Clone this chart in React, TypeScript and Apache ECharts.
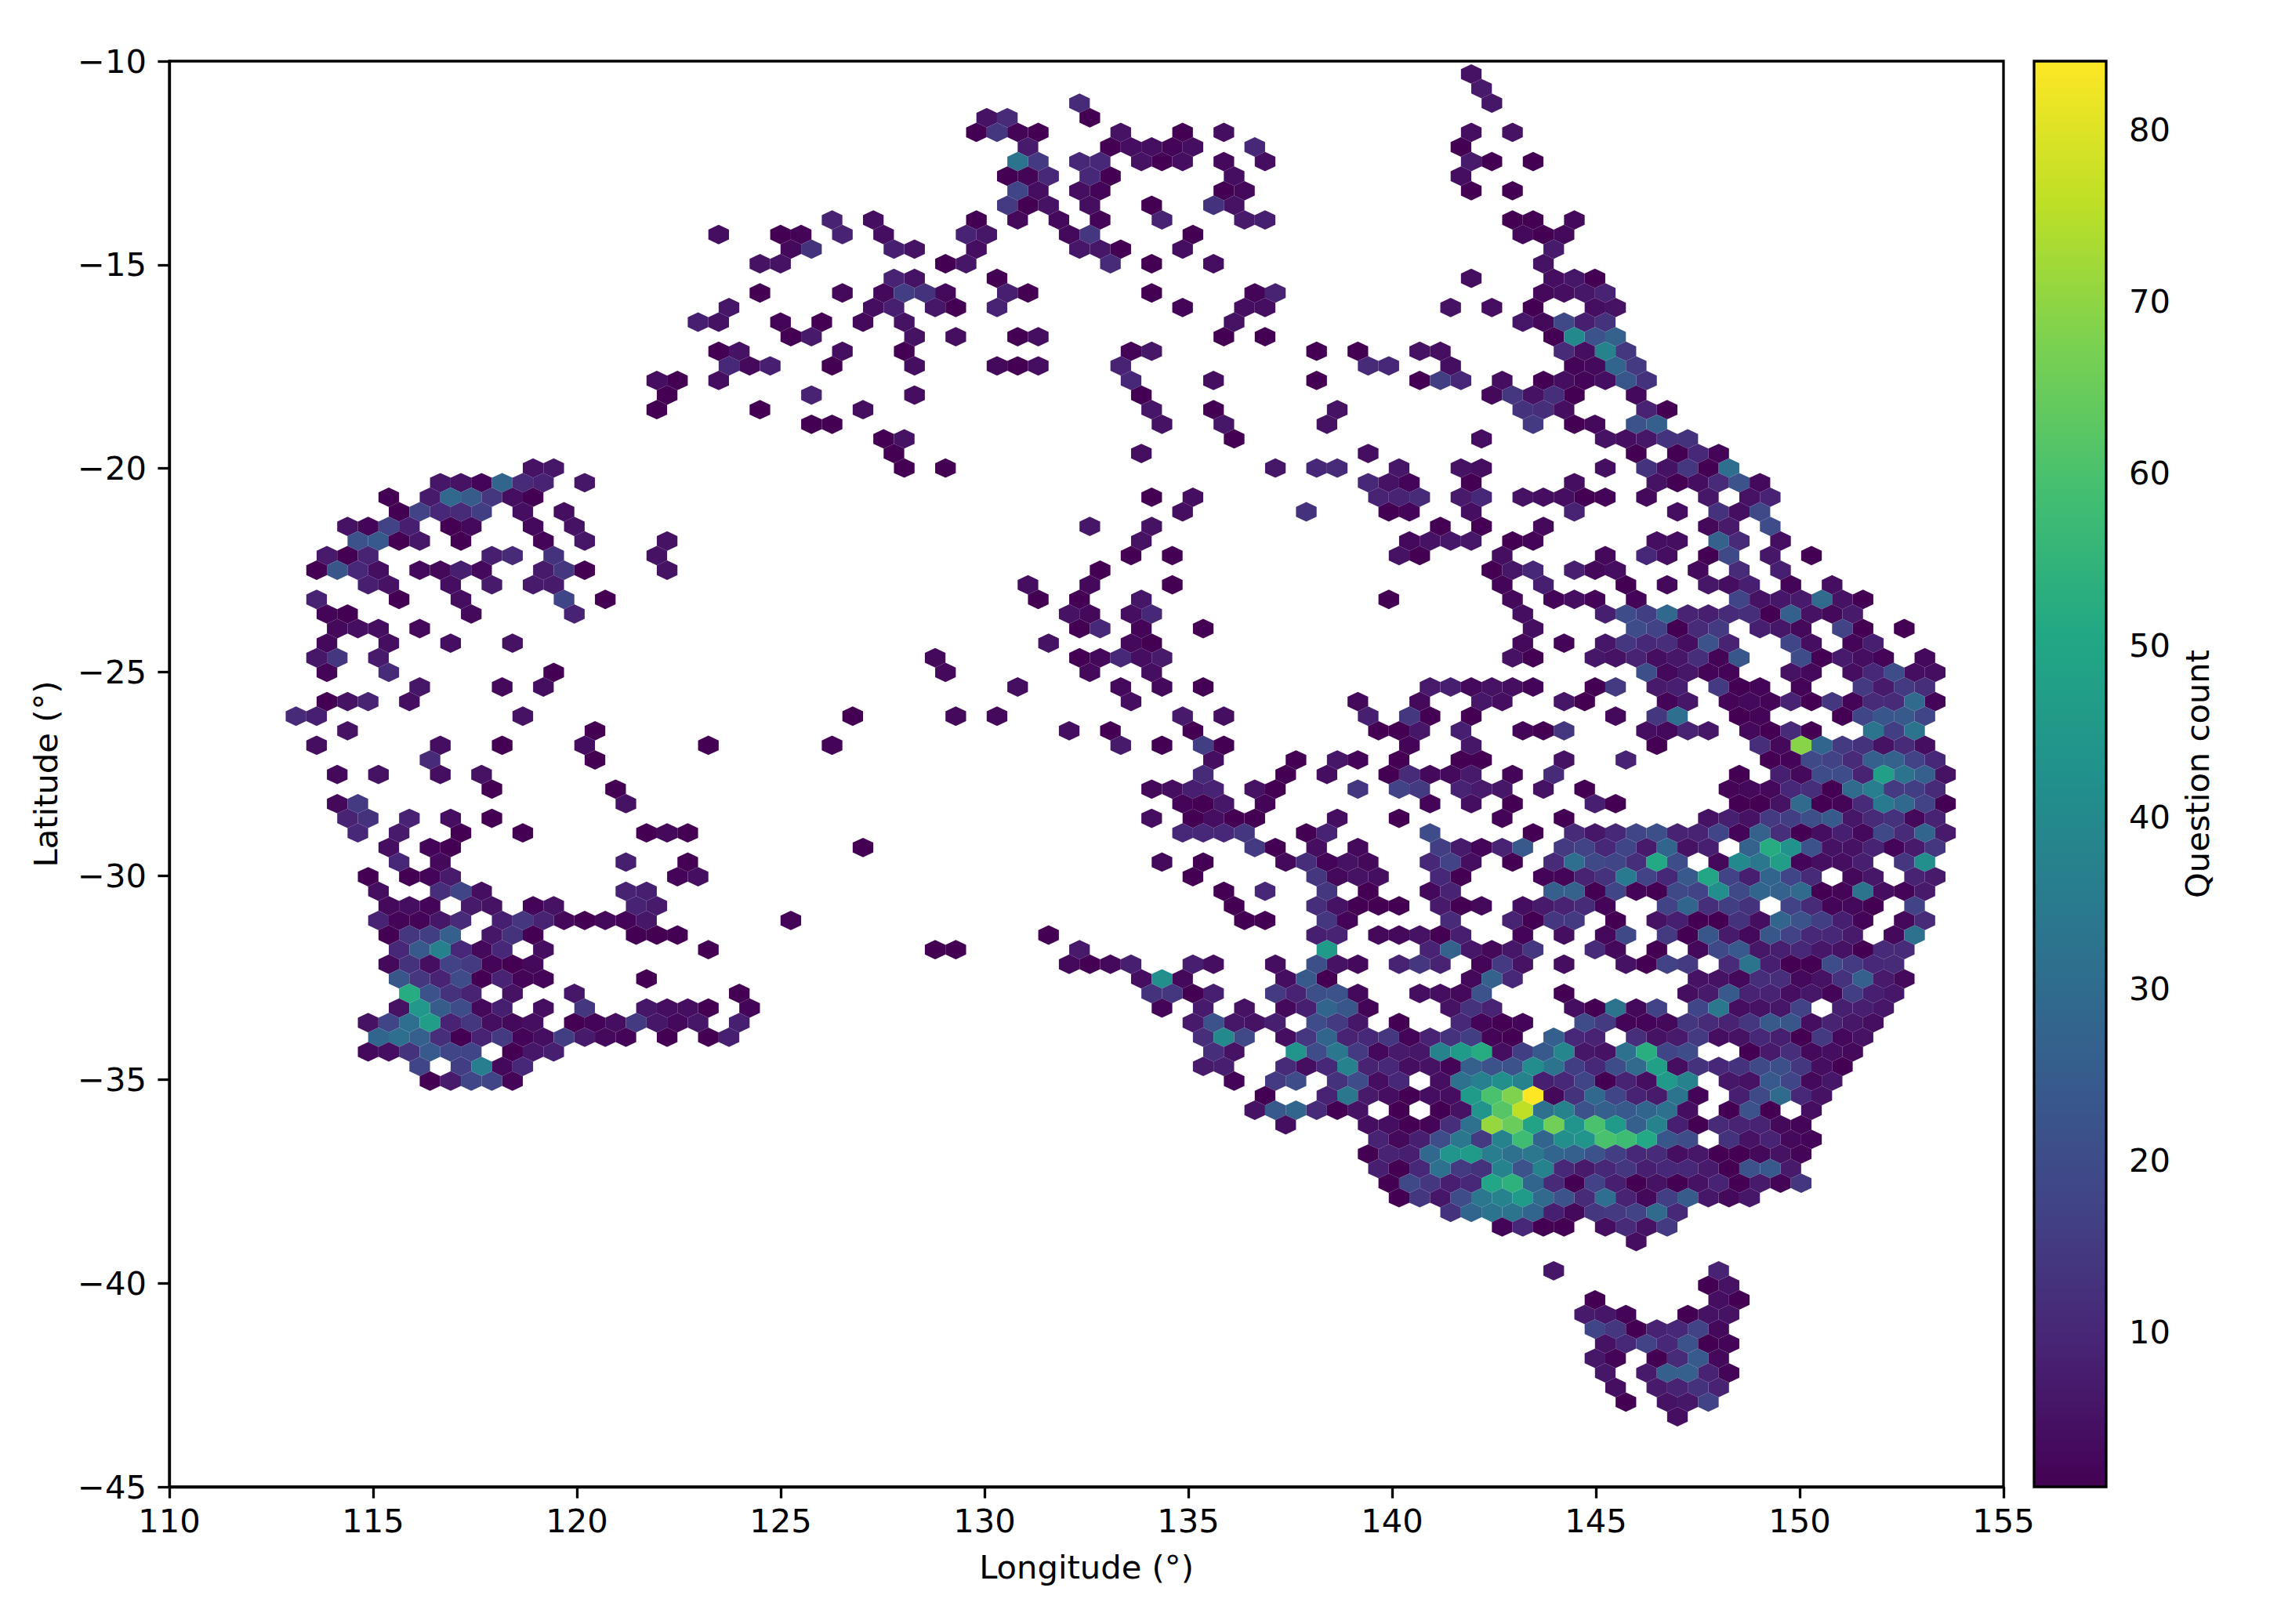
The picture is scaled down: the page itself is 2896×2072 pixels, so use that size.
import React, { useEffect, useRef } from "react";
import * as echarts from "echarts";

// Hexbin lattice: bin k sits at lon = lonOrigin + k*lonStep, bin r at lat = latOrigin - r*latStep
const lonOrigin = 113.108;
const lonStep = 0.25293;
const latOrigin = -10.316;
const latStep = 0.35828;
const vmin = 1;
const vmax = 84;
const xTicks = [110, 115, 120, 125, 130, 135, 140, 145, 150, 155];
const cbarTicks = [10, 20, 30, 40, 50, 60, 70, 80];
const viridis = ["#440154", "#482475", "#414487", "#355f8d", "#2a788e", "#21918c", "#22a884", "#44bf70", "#7ad151", "#bddf26", "#fde725"];

// each row: [r, k, count, k, count, ...]
const rowsNorth: number[][] = [
[0,114,5],[1,115,7],[2,76,11,116,6],[3,67,5,69,11,77,1],
[4,66,1,68,14,70,2,72,1,80,5,86,1,90,4,114,4,118,5],
[5,71,7,79,1,81,4,83,4,85,2,87,4,93,10,113,1],
[6,70,33,72,15,76,10,78,10,82,5,84,1,86,4,90,3,94,4,114,7,116,1,120,1],
[7,69,1,71,2,73,10,77,10,79,1,91,4,113,4],
[8,70,18,72,4,76,4,78,2,90,1,92,3,114,1,118,1],
[9,69,15,71,1,73,5,77,4,83,1,89,13,91,5],
[10,52,9,56,4,66,1,70,3,74,3,78,2,84,9,92,7,94,8,118,1,120,1,124,3],
[11,41,4,47,1,49,2,53,9,57,4,65,9,67,6,75,3,77,14,87,1,119,3,121,1,123,3],
[12,48,3,50,13,58,8,60,5,66,4,76,6,78,6,80,1,86,4,122,7],
[13,45,5,47,5,63,1,65,6,79,11,83,1,89,4,121,5],
[14,58,9,60,5,68,1,114,4,122,4,124,6,126,1],
[15,45,1,53,3,57,3,59,16,61,13,63,3,69,8,71,1,83,1,93,2,95,9,121,3,123,4,125,6,127,9],
[16,42,6,56,4,58,8,62,6,64,1,68,9,86,2,92,4,94,4,112,5,116,4,120,1,126,4,128,5],
[17,39,8,41,5,47,2,51,1,55,3,59,5,91,5,119,6,121,3,123,19,125,8,127,13],
[18,48,1,50,7,60,5,64,4,70,1,72,4,90,1,94,1,122,1,124,40,126,22,128,27],
[19,41,1,43,5,53,4,59,1,81,2,83,6,99,1,103,1,109,5,111,4,123,11,125,4,127,38,129,14],
[20,42,10,44,3,46,8,52,1,60,4,68,3,70,1,72,4,80,9,104,11,106,10,112,4,124,2,126,3,128,28,130,15],
[21,35,4,37,1,41,4,81,10,89,4,99,1,109,1,111,16,113,10,117,4,121,1,123,4,125,2,127,4,129,23,131,13],
[22,36,1,50,9,60,4,82,1,116,3,118,14,120,5,122,12,124,1,130,3],
[23,35,1,45,1,55,4,83,6,89,1,101,5,119,13,121,12,123,4,131,9,133,1],
[24,50,1,52,1,84,5,90,6,100,5,120,15,124,1,126,3,130,22,132,26],
[25,57,1,59,5,91,1,115,4,127,5,129,4,131,6,133,13,135,13],
[26,58,1,82,4,104,4,130,1,134,1,136,10,138,2],
];

const rowsUpper: number[][] = [
[27,23,5,25,6,59,1,63,1,95,6,99,10,101,11,107,6,113,5,115,4,127,4,131,13,133,5,135,14,137,1,139,31],
[28,14,6,16,5,18,2,20,28,22,11,24,9,28,6,104,10,106,5,108,2,114,1,124,4,132,5,134,1,136,4,138,11,140,22,142,3],
[29,9,1,13,7,15,29,17,25,19,14,21,4,23,1,83,1,87,4,105,9,107,9,109,11,113,7,115,10,119,5,121,4,123,4,125,1,127,2,131,3,137,6,141,5,143,9],
[30,10,1,12,17,14,10,16,11,18,16,22,4,26,4,86,4,98,13,106,1,108,2,114,4,124,9,134,4,138,13,140,4,142,19],
[31,5,5,7,2,9,17,11,8,15,1,17,3,23,3,27,5,77,6,83,5,111,1,115,1,121,3,137,3,139,7,143,20],
[32,6,22,8,24,10,1,12,6,16,1,24,2,28,6,36,5,82,5,108,3,110,5,112,6,114,6,118,1,120,2,132,4,134,4,138,27,140,11,144,4],
[33,3,7,5,1,7,9,19,8,21,11,25,13,35,5,81,1,85,1,107,5,109,1,117,4,127,3,131,10,133,4,137,1,139,19,143,6,147,1],
[34,2,1,4,23,6,10,8,4,12,3,14,3,16,8,18,3,24,7,26,14,28,1,36,5,78,1,116,1,118,6,120,10,124,8,126,3,128,4,136,3,140,11,144,8],
[35,7,8,9,5,15,4,19,7,23,7,25,7,71,4,77,3,85,1,117,2,121,8,129,1,133,3,137,6,139,4,141,8,145,2,149,4],
[36,2,9,10,1,16,4,26,18,30,1,72,1,76,1,82,6,106,1,118,3,122,2,124,4,126,2,130,2,140,18,142,5,144,6,146,7,148,30,150,5,152,1],
[37,3,2,5,1,17,3,27,9,75,5,77,3,81,4,83,10,119,4,127,8,129,20,131,16,133,29,135,9,137,8,139,11,141,12,143,1,145,26,147,5,149,3,151,7],
[38,4,3,6,4,8,4,12,3,76,1,78,10,82,2,88,1,120,4,130,20,132,17,134,1,136,11,138,15,142,8,144,6,146,3,150,17,152,1,156,1],
[39,3,3,9,4,15,4,21,5,73,5,81,3,83,1,119,3,123,2,127,6,129,14,131,10,133,12,135,4,137,22,139,9,145,18,147,4,151,2,153,8],
[40,2,6,4,14,8,7,62,3,76,1,78,3,80,10,82,4,84,7,118,5,120,1,126,6,128,5,130,9,132,4,134,6,136,12,138,2,140,23,146,20,148,1,150,7,152,4,154,2,158,3],
[41,3,2,9,11,25,1,63,3,77,3,83,4,131,21,133,3,135,6,137,2,139,2,145,5,147,3,151,4,153,10,155,20,157,4,159,4],
[42,12,6,20,3,24,4,70,4,80,3,84,3,88,1,110,7,112,8,114,3,116,5,118,4,120,2,126,1,128,15,132,7,134,8,138,15,140,1,142,2,146,2,152,15,154,7,156,15,158,12],
[43,3,1,5,5,7,9,11,4,81,4,103,3,109,3,115,6,117,4,123,6,125,1,133,2,135,6,139,2,141,3,143,2,145,9,147,1,149,14,151,2,153,11,155,11,157,30,159,2],
[44,0,11,2,8,22,5,54,1,64,3,68,3,86,7,90,4,104,8,108,14,110,1,114,1,128,3,132,14,134,31,140,1,142,2,150,1,152,18,154,23,156,24,158,18],
[45,5,5,29,1,75,4,79,1,87,1,105,1,107,1,109,6,113,8,119,2,121,1,123,14,131,4,133,3,135,9,137,6,141,3,143,1,145,11,147,1,153,33,155,16,157,33],
];

const rowsMiddle: number[][] = [
[46,2,4,14,4,20,1,28,4,40,1,52,2,80,7,84,1,88,16,90,1,108,2,114,6,132,1,142,12,144,3,146,69,148,28,150,15,152,13,154,5,156,11,158,4],
[47,13,11,29,1,89,4,97,1,101,6,103,2,107,1,113,1,115,1,123,5,129,9,143,1,145,2,147,19,149,17,151,11,153,26,155,27,157,17,159,10],
[48,4,3,8,5,14,4,18,5,88,11,96,1,100,4,106,1,108,11,110,3,112,3,114,7,118,2,122,11,140,1,144,8,146,3,148,20,150,20,152,9,154,48,156,33,158,26,160,5],
[49,19,1,31,1,83,3,85,4,87,8,89,9,93,5,95,1,103,14,107,17,109,15,113,9,115,7,117,6,121,5,125,1,139,2,141,3,143,3,145,10,147,12,149,1,151,30,153,36,155,15,157,16,159,11],
[50,4,3,6,15,32,5,86,2,88,1,90,6,94,2,110,2,114,4,118,1,126,8,128,1,140,1,142,1,144,5,146,30,148,1,150,2,152,11,154,35,156,29,158,17,160,1],
[51,5,9,7,13,11,9,15,4,19,1,83,4,87,1,89,4,91,1,93,1,101,4,107,1,117,2,123,1,137,5,139,8,141,5,143,15,145,16,147,21,149,24,151,6,153,11,155,13,157,3,159,9],
[52,6,10,10,7,16,1,22,1,34,1,36,3,38,1,86,10,88,10,90,10,92,14,98,1,100,9,110,20,120,1,124,11,126,6,128,10,130,18,132,21,134,9,136,9,138,18,140,2,142,27,144,12,146,1,148,4,150,8,152,3,154,19,156,11,158,28,160,7],
[53,9,4,13,2,15,1,55,1,93,15,95,1,99,4,103,3,111,16,113,7,115,2,117,9,119,24,123,15,125,17,127,10,129,18,131,7,133,28,135,5,137,8,141,27,143,52,145,43,147,22,149,5,151,5,153,9,155,2,157,7,159,14],
[54,10,10,14,3,32,8,38,1,84,3,88,1,96,3,98,12,100,2,102,5,104,3,110,10,112,17,114,4,118,1,122,11,124,31,126,19,128,18,130,12,132,51,134,20,138,3,140,40,142,34,144,47,146,2,148,4,150,4,152,8,156,14,158,42],
[55,7,1,11,1,13,2,15,7,37,2,39,4,87,1,99,14,101,3,103,5,105,4,111,10,113,1,121,2,123,2,125,9,127,13,129,35,131,17,133,10,135,24,137,50,139,17,141,8,143,28,145,18,147,11,151,3,153,6,157,9,159,7],
[56,8,4,14,12,16,18,18,4,32,9,34,8,90,1,94,10,100,14,104,1,110,3,112,9,122,26,124,27,126,1,128,18,130,2,132,1,134,19,136,17,138,42,140,19,142,28,144,27,146,30,148,1,150,2,152,33,154,4,156,2,158,7],
[57,9,3,11,4,13,2,17,7,19,5,23,2,25,5,33,9,35,7,91,1,99,12,101,5,103,1,105,1,107,1,111,7,113,1,115,3,119,4,121,7,123,9,125,11,127,2,133,17,135,28,137,12,139,16,141,13,145,17,147,11,149,2,151,3,153,1,157,17],
[58,8,9,10,2,12,2,14,6,16,11,20,8,22,14,24,9,26,3,28,1,30,3,32,2,34,6,48,2,92,1,94,1,100,14,102,2,112,11,118,9,120,1,122,14,124,15,128,1,132,5,134,8,136,1,138,1,140,13,142,4,144,28,146,22,148,16,150,8,152,2,156,3,158,11],
[59,9,1,11,14,13,16,15,26,19,6,21,13,23,1,33,1,35,1,37,1,73,1,99,8,101,9,105,3,107,3,109,5,111,1,113,8,119,2,123,4,127,3,129,19,133,15,135,1,137,23,139,7,141,3,143,23,145,17,147,10,149,10,151,7,155,3,157,32],
[60,10,10,12,24,14,37,16,10,18,3,20,10,24,4,40,1,62,1,64,1,76,7,100,46,110,9,112,27,114,6,116,3,118,6,120,14,126,11,128,3,132,1,136,3,138,19,140,24,142,6,144,8,146,10,148,6,150,5,152,1,154,11,156,11],
];

const rowsSouth: number[][] = [
[61,9,3,11,13,13,4,15,17,17,15,19,2,21,1,23,3,75,3,77,1,79,3,81,8,87,8,89,4,95,4,99,21,101,5,103,3,107,9,109,14,111,9,115,2,117,15,119,5,123,4,129,5,131,1,133,17,135,15,139,11,141,33,143,8,145,1,147,1,149,20,151,15,153,10,155,11],
[62,10,23,12,14,14,9,16,20,18,1,20,9,22,2,24,2,34,1,82,4,84,42,86,3,96,4,98,24,100,1,114,3,116,27,118,10,136,5,138,5,140,3,142,12,144,12,146,3,148,5,150,13,152,26,154,7,156,3],
[63,11,52,13,22,15,13,17,9,21,5,27,6,43,1,83,13,85,14,87,1,89,8,95,15,97,9,99,21,101,22,103,3,109,4,111,4,113,3,115,22,123,1,135,4,137,7,139,24,141,9,143,9,145,4,147,6,149,2,151,16,153,8,155,6],
[64,10,5,12,45,14,25,16,20,18,3,20,8,24,4,28,14,34,6,36,4,38,4,40,1,44,2,84,2,88,7,92,5,96,3,98,8,100,28,102,23,104,2,112,5,114,13,116,9,124,4,126,1,128,33,130,3,132,17,136,18,138,34,140,4,142,5,144,6,146,17,150,8,152,8,154,6],
[65,7,5,9,18,11,31,13,47,15,9,17,14,19,4,21,3,23,4,27,1,29,2,31,4,33,15,35,6,37,3,39,6,43,8,87,7,89,22,91,6,93,5,95,8,99,20,101,15,103,6,107,1,113,10,115,2,117,1,119,2,125,20,127,15,129,2,131,2,133,3,135,14,137,11,139,9,141,14,143,24,145,23,147,4,149,9,151,6,153,4],
[66,8,28,10,31,12,26,14,12,16,1,18,9,20,15,22,2,24,4,26,16,28,7,30,3,32,2,36,1,40,1,42,8,88,12,90,40,92,19,96,4,98,14,100,28,102,9,104,10,106,14,108,2,110,9,112,13,114,16,116,2,118,1,122,26,124,10,126,9,130,12,132,5,134,7,136,15,138,4,140,5,142,10,144,8,146,1,148,15,150,3,152,5],
[67,7,3,9,4,11,13,13,24,15,18,17,18,21,1,23,6,25,8,89,12,91,5,97,44,99,20,101,34,103,15,105,3,107,7,109,6,111,38,113,46,115,52,117,4,119,16,121,24,123,39,125,6,127,5,129,32,131,53,133,18,135,20,141,1,143,7,145,12,147,3,149,4,151,3],
[68,12,18,16,16,18,36,20,3,22,10,88,7,90,8,96,11,98,4,100,10,102,38,104,9,106,10,108,4,110,5,112,2,114,26,116,22,118,22,120,41,122,33,124,16,126,10,128,20,130,30,132,48,134,4,136,13,138,10,140,13,142,19,144,21,146,14,148,4,150,1],
[69,13,1,15,7,17,18,19,18,21,2,91,2,95,15,97,20,101,13,103,20,105,4,107,10,111,4,113,32,115,37,117,42,119,38,121,8,123,10,125,18,127,1,129,9,131,4,133,46,135,38,139,6,141,5,143,24,145,18,147,3,149,6],
[70,94,1,100,9,102,34,104,7,106,4,108,1,110,4,112,4,114,46,116,60,118,68,120,84,122,3,124,13,126,29,128,18,130,9,132,7,134,33,136,2,140,8,142,19,144,30,146,10,148,5],
[71,93,5,95,24,97,28,99,11,101,1,103,5,107,1,111,1,113,5,115,44,117,62,119,76,121,32,123,38,125,22,127,26,129,24,131,28,133,32,135,4,139,1,141,22,143,1,147,4],
[72,96,4,104,4,106,4,108,1,110,2,112,12,114,32,116,71,118,65,120,49,122,66,124,44,126,60,128,46,130,26,132,38,134,8,136,1,138,11,140,9,142,9,144,3,146,2],
[73,105,9,107,3,109,8,111,20,113,34,115,15,117,38,119,58,121,28,123,42,125,44,127,60,129,58,131,51,133,23,135,20,139,13,141,5,143,9,145,3,147,2],
[74,104,1,106,9,108,8,110,29,112,44,114,46,116,36,118,32,120,34,122,28,124,26,126,22,128,16,130,10,132,11,134,4,136,6,138,1,140,1,142,3,144,5,146,2],
[75,105,8,107,1,109,10,111,32,113,15,115,13,117,38,119,22,121,38,123,10,125,7,127,10,129,14,131,8,133,10,135,10,137,7,139,1,141,22,143,24,145,7],
[76,106,1,108,19,110,14,112,8,114,10,116,50,118,54,120,28,122,11,124,1,126,17,128,8,130,1,132,5,134,1,136,5,138,9,140,1,142,7,144,2,146,14],
[77,107,1,109,14,111,6,113,20,115,34,117,38,119,46,121,30,123,22,125,11,127,31,129,9,131,3,133,16,135,25,137,6,139,3,141,6],
[78,112,13,114,28,116,33,118,33,120,28,122,8,124,3,126,14,128,15,130,17,132,30,134,10],
[79,117,2,119,10,121,1,123,1,127,4,129,11,131,5,133,15],
[80,130,4],
];

const rowsTasmania: number[][] = [
[82,122,6,138,9],[83,137,1,139,5],[84,126,1,138,4,140,1],
[85,125,7,127,6,129,2,135,1,137,5,139,5],
[86,126,18,128,14,130,1,132,9,134,10,136,17,138,3],
[87,127,5,129,10,131,17,133,10,135,22,137,1,139,2],
[88,126,6,128,2,132,1,134,11,136,24,138,3],
[89,127,6,131,7,133,26,135,26,137,9,139,2],
[90,128,4,132,7,134,9,136,13,138,9],
[91,129,1,133,5,135,6,137,17],
[92,134,4],
];

const hexData: number[][] = [];
[rowsNorth, rowsUpper, rowsMiddle, rowsSouth, rowsTasmania].forEach((rows) =>
  rows.forEach((row) => {
    for (let i = 1; i < row.length; i += 2) {
      hexData.push([lonOrigin + row[i] * lonStep, latOrigin - row[0] * latStep, row[i + 1]]);
    }
  })
);

function hexColor(v: number): string {
  const t = Math.min(1, Math.max(0, (v - vmin) / (vmax - vmin))) * (viridis.length - 1);
  const i = Math.min(viridis.length - 2, Math.floor(t));
  const f = t - i;
  const p = (s: string, o: number) => parseInt(s.substr(o, 2), 16);
  const a = viridis[i], b = viridis[i + 1];
  const mix = (o: number) => Math.round(p(a, o) + (p(b, o) - p(a, o)) * f);
  return `rgb(${mix(1)},${mix(3)},${mix(5)})`;
}

const font = "DejaVu Sans";
const fs = 41.67;
const lw = 3.3;

export default function App() {
  const ref = useRef<HTMLDivElement>(null);
  useEffect(() => {
    document.body.style.margin = "0";
    const chart = echarts.init(ref.current!, undefined, { renderer: "svg" });
    const commonAxis = {
      axisLine: { show: true, onZero: false, lineStyle: { color: "#000", width: lw } },
      axisTick: { show: true, inside: false, length: 14.6, lineStyle: { color: "#000", width: lw } },
      splitLine: { show: false },
      nameTextStyle: { color: "#000", fontFamily: font, fontSize: fs },
    };
    const label = { color: "#000", fontFamily: font, fontSize: fs };
    chart.setOption({
      animation: false,
      backgroundColor: "#fff",
      grid: [
        { left: 216, top: 78, width: 2340, height: 1819, show: true, borderColor: "#000", borderWidth: lw, backgroundColor: "transparent" },
        { left: 2595, top: 78, width: 92, height: 1819 },
      ],
      xAxis: [
        { ...commonAxis, type: "value", gridIndex: 0, min: xTicks[0], max: xTicks[xTicks.length - 1], interval: 5,
          name: "Longitude (°)", nameLocation: "middle", nameGap: 81, axisLabel: { ...label, margin: 22, showMinLabel: true, showMaxLabel: true } },
        { type: "value", gridIndex: 1, min: 0, max: 1, show: false },
      ],
      yAxis: [
        { ...commonAxis, type: "value", gridIndex: 0, min: -45, max: -10, interval: 5,
          name: "Latitude (°)", nameLocation: "middle", nameGap: 137, nameRotate: 90,
          axisLabel: { ...label, margin: 29, formatter: (v: number) => String(v).replace("-", "\u2212") } },
        { ...commonAxis, type: "value", gridIndex: 1, position: "right", min: vmin, max: vmax,
          name: "Question count", nameLocation: "middle", nameGap: 95, nameRotate: 90,
          axisLine: { show: false },
          axisTick: { ...commonAxis.axisTick, customValues: cbarTicks },
          axisLabel: { ...label, margin: 29, customValues: cbarTicks } },
      ],
      series: [
        {
          type: "custom", xAxisIndex: 0, yAxisIndex: 0, clip: false, silent: true,
          data: hexData, encode: { x: 0, y: 1 },
          renderItem: (_p: any, api: any) => {
            const lon = api.value(0), lat = api.value(1);
            const hw = lonStep, hh = latStep * 2 / 3, sh = latStep / 3;
            const pts = [[lon, lat + hh], [lon + hw, lat + sh], [lon + hw, lat - sh], [lon, lat - hh], [lon - hw, lat - sh], [lon - hw, lat + sh]].map((c) => api.coord(c));
            return { type: "polygon", shape: { points: pts }, style: { fill: hexColor(api.value(2)), stroke: null } };
          },
        },
        {
          type: "custom", xAxisIndex: 1, yAxisIndex: 1, clip: false, silent: true,
          data: [[0, vmin, 1, vmax]], encode: { x: [0, 2], y: [1, 3] },
          renderItem: (_p: any, api: any) => {
            const a = api.coord([api.value(0), api.value(1)]);
            const b = api.coord([api.value(2), api.value(3)]);
            return {
              type: "rect",
              shape: { x: a[0], y: b[1], width: b[0] - a[0], height: a[1] - b[1] },
              style: {
                fill: new echarts.graphic.LinearGradient(0, 1, 0, 0, viridis.map((c, i) => ({ offset: i / (viridis.length - 1), color: c }))),
                stroke: "#000", lineWidth: lw,
              },
            };
          },
        },
      ],
    });
    return () => chart.dispose();
  }, []);
  return <div ref={ref} style={{ width: 2896, height: 2072 }} />;
}
